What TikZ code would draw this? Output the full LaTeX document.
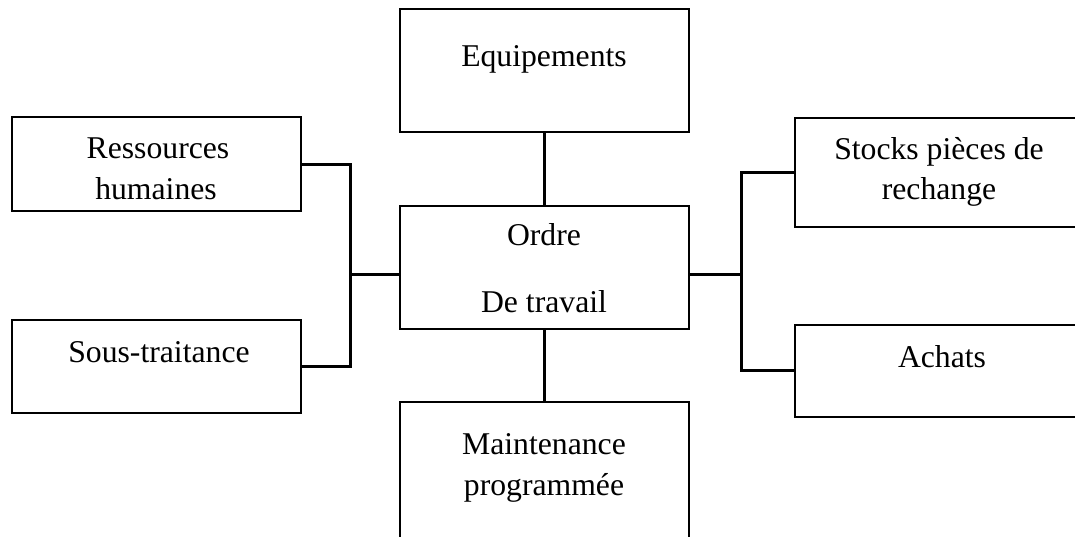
\documentclass[tikz,border=0pt]{standalone}
\usepackage{fontspec}
\setmainfont{Liberation Serif}
\begin{document}
\begin{tikzpicture}[x=1pt,y=-1pt,
  box/.style={draw,line width=2pt,inner sep=0pt,outer sep=0pt,minimum width=289pt},
  link/.style={line width=3pt},
  lbl/.style={anchor=base,inner sep=0pt,font=\fontsize{31.7}{38}\selectfont}]
\clip (0,0) rectangle (1075,537);
% boxes
\node[box,minimum height=94pt] (rh) at (156,164.5) {};
\node[box,minimum height=93pt] (stt) at (156,366) {};
\node[box,minimum height=123pt] (eq) at (544,71) {};
\node[box,minimum height=122pt] (ot) at (544,267.5) {};
\node[box,minimum height=150pt] (mp) at (544,477) {};
\node[box,minimum width=291pt,minimum height=109pt] (sp) at (940,173) {};
\node[box,minimum width=291pt,minimum height=92pt] (ac) at (940,370.5) {};
% texts
\node[lbl] (t1) at (544,67) {Equipements};
\node[lbl] (t2) at (158,159) {Ressources};
\node[lbl] (t3) at (156,200) {humaines};
\node[lbl] (t4) at (159,362) {Sous-traitance};
\node[lbl] (t5) at (544,245) {Ordre};
\node[lbl] (t6) at (544,312) {De travail};
\node[lbl] (t7) at (544,454) {Maintenance};
\node[lbl] (t8) at (544,495) {programmée};
\node[lbl] (t9) at (939,160) {Stocks pièces de};
\node[lbl] (t10) at (939,200) {rechange};
\node[lbl] (t11) at (942,367) {Achats};
% connectors
\coordinate (lj) at (350,274);
\coordinate (rj) at (741,274);
\draw[link] (rh.east) -| (lj) |- (stt.east);
\draw[link] (lj) -- (ot.west |- lj);
\draw[link] (sp.west) -| (rj) |- (ac.west);
\draw[link] (rj) -- (ot.east |- rj);
\draw[link] (eq.south) -- (ot.north);
\draw[link] (ot.south) -- (mp.north);
\end{tikzpicture}
\end{document}
